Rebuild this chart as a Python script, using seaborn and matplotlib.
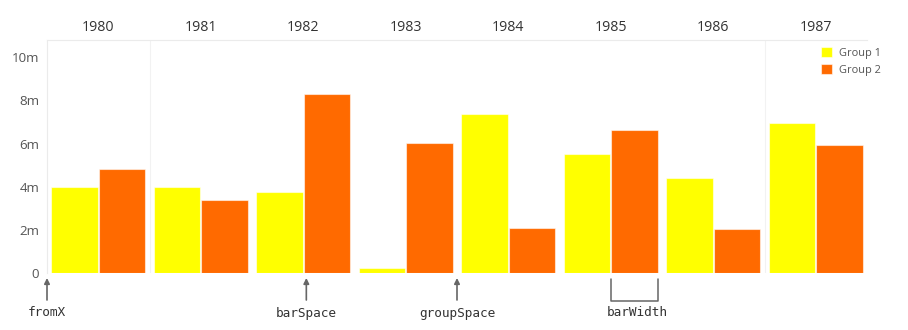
import matplotlib
matplotlib.use("Agg")
import matplotlib.pyplot as plt
import matplotlib.transforms as mtransforms
import seaborn as sns
import pandas as pd

# ---- data ----
years = ["1980", "1981", "1982", "1983", "1984", "1985", "1986", "1987"]
group_names = ["Group 1", "Group 2"]
group1 = [4.0, 4.0, 3.77, 0.23, 7.38, 5.53, 4.41, 6.93]
group2 = [4.84, 3.37, 8.29, 6.02, 2.11, 6.62, 2.03, 5.93]
y_ticks = [0, 2, 4, 6, 8, 10]
y_tick_labels = ["0", "2m", "4m", "6m", "8m", "10m"]
colors = ["#FFFF00", "#FF6A00"]

df = pd.DataFrame({
    "year": years * 2,
    "group": [group_names[0]] * len(years) + [group_names[1]] * len(years),
    "value": group1 + group2,
})

sns.set_theme(style="white")
plt.rcParams["font.family"] = ["Open Sans", "DejaVu Sans"]

W, H = 908, 330
fig = plt.figure(figsize=(W / 100, H / 100), dpi=100)
ax = fig.add_axes([47 / W, (H - 273.3) / H, (867 - 47) / W, (273.3 - 40) / H])

WIDTH = 0.935
GAP = 0.03
sns.barplot(data=df, x="year", y="value", hue="group", palette=colors,
            width=WIDTH, gap=GAP, ax=ax, edgecolor=(1, 1, 1, 0.55),
            linewidth=0.8, saturation=1, errorbar=None)

ax.set_xlim(-0.5, len(years) - 0.5)
ax.set_ylim(0, 10.79)
ax.set_xlabel("")
ax.set_ylabel("")

ax.xaxis.tick_top()
ax.tick_params(axis="x", length=0, pad=3.5, labelsize=10.2, colors="#333333")
ax.set_yticks(y_ticks)
ax.set_yticklabels(y_tick_labels)
ax.tick_params(axis="y", length=0, pad=5.5, labelsize=9.6, colors="#555555")

for side in ["right", "bottom"]:
    ax.spines[side].set_visible(False)
for side in ["top", "left"]:
    ax.spines[side].set_color("#ebebeb")
    ax.spines[side].set_linewidth(0.8)

for xv in [0.5, 6.5]:
    ax.axvline(xv, color="#f2f2f2", lw=0.8, zorder=0)

# legend
handles, labels = ax.get_legend_handles_labels()
ax.legend(handles, labels, loc="upper left",
          bbox_to_anchor=(821 / W, (H - 47) / H), bbox_transform=fig.transFigure,
          frameon=False, fontsize=7.9, handlelength=1.0, handleheight=1.0,
          handletextpad=0.6, labelspacing=0.5, borderpad=0, borderaxespad=0,
          labelcolor="#555555")

# annotations below the chart
trans = mtransforms.blended_transform_factory(ax.transData, fig.transFigure)
def fy(py):
    return 1 - py / H

ann_color = "#666666"
mono = ["DejaVu Sans Mono"]
slot = WIDTH / 2
arrows = [
    (-0.5, "fromX", 312),
    (years.index("1982") + 0.03, "barSpace", 314),
    (years.index("1983") + 0.5, "groupSpace", 313),
]
for xv, label, ty in arrows:
    ax.annotate("", xy=(xv, fy(278)), xytext=(xv, fy(300)),
                xycoords=trans, textcoords=trans, annotation_clip=False,
                arrowprops=dict(arrowstyle="-|>", color=ann_color, lw=1.2,
                                mutation_scale=8, shrinkA=0, shrinkB=0))
    fig.text(xv, fy(ty), label, transform=trans, ha="center", va="center",
             fontsize=9.2, color="#333333", family=mono)

i85 = years.index("1985")
bx0 = i85 + slot * GAP / 2
bx1 = i85 + slot - slot * GAP / 2
ax.plot([bx0, bx0, bx1, bx1], [fy(279), fy(301), fy(301), fy(279)],
        transform=trans, color=ann_color, lw=1.1, clip_on=False)
fig.text((bx0 + bx1) / 2 + 0.02, fy(313), "barWidth", transform=trans,
         ha="center", va="center", fontsize=9.2, color="#333333", family=mono)

fig.savefig("out.png", dpi=100, facecolor="white")
